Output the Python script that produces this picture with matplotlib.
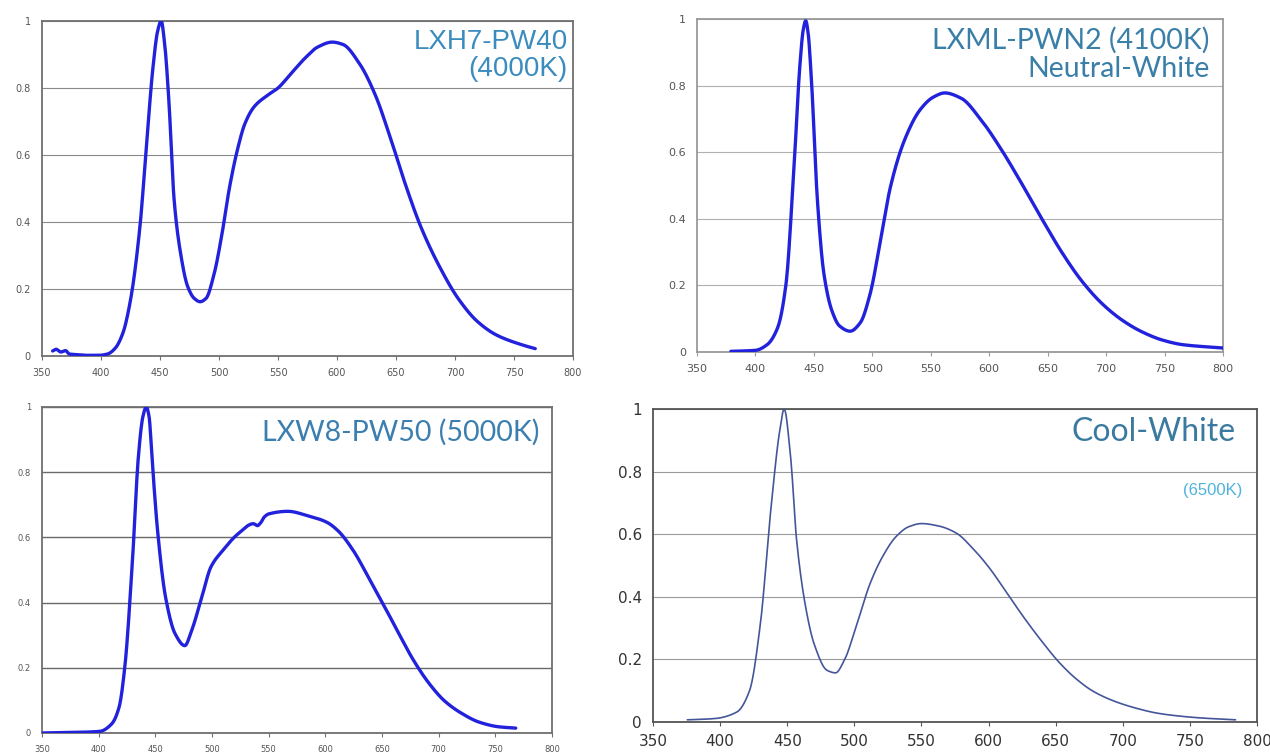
import numpy as np
import matplotlib
matplotlib.use('Agg')
import matplotlib.pyplot as plt
from matplotlib.ticker import FuncFormatter

# wavelength (nm) / relative intensity
wl_pw40 = [359, 362, 366, 370, 373, 380, 389, 398, 405.6, 412, 418.5, 425, 433, 438, 444, 448, 451,
           454, 457.5, 462, 467, 473.5, 479, 484, 489, 496, 502.6, 509, 515.5, 522, 530, 541, 550,
           561, 574, 583.5, 596, 605, 619, 632, 645, 658, 671, 687, 703, 719, 735.5, 758, 768]
sp_pw40 = [0.015, 0.02, 0.012, 0.016, 0.006, 0.004, 0.002, 0.002, 0.006, 0.023, 0.068, 0.167, 0.386,
           0.604, 0.86, 0.97, 1.0, 0.93, 0.763, 0.465, 0.316, 0.207, 0.172, 0.162, 0.172, 0.247,
           0.366, 0.505, 0.614, 0.694, 0.745, 0.778, 0.80, 0.843, 0.893, 0.922, 0.937, 0.93, 0.873,
           0.783, 0.654, 0.512, 0.386, 0.266, 0.17, 0.103, 0.062, 0.032, 0.022]

wl_pwn2 = [379, 400, 410, 419, 426, 433, 438, 441, 443, 445, 448, 453, 458.6, 465.5, 472, 481, 489.7,
           498, 507, 515.5, 527.6, 541, 552, 562, 576, 593, 610, 627.6, 645, 662, 679, 696.6, 714,
           731, 748, 765.5, 800]
sp_pwn2 = [0.002, 0.005, 0.022, 0.073, 0.2, 0.556, 0.86, 0.97, 0.995, 0.96, 0.81, 0.456, 0.234,
           0.123, 0.078, 0.0625, 0.088, 0.173, 0.335, 0.496, 0.637, 0.728, 0.765, 0.778, 0.762,
           0.697, 0.61, 0.507, 0.4, 0.3, 0.214, 0.145, 0.095, 0.06, 0.036, 0.022, 0.012]

wl_pw50 = [350, 381, 401, 411.5, 418, 423, 430, 435, 439, 442, 444.5, 447, 452, 459, 467.5, 476,
           482, 491, 499, 509.5, 523, 536.5, 540, 543, 546, 550, 567, 584, 601, 611, 624.6, 638,
           651, 665, 678, 692, 705, 719, 736, 753, 768]
sp_pw50 = [0.0, 0.002, 0.005, 0.028, 0.079, 0.2, 0.54, 0.846, 0.97, 1.0, 0.97, 0.846, 0.62, 0.417,
           0.304, 0.268, 0.314, 0.417, 0.509, 0.56, 0.611, 0.642, 0.636, 0.645, 0.662, 0.672, 0.68,
           0.667, 0.647, 0.621, 0.56, 0.478, 0.396, 0.304, 0.222, 0.15, 0.099, 0.063, 0.033,
           0.019, 0.015]

wl_cool = [375.6, 396, 412.5, 422, 430, 438, 444.5, 447.7, 452.5, 457, 463.7, 470, 479.7, 486,
           492.5, 502, 511.7, 521, 531, 540.6, 550, 563, 575.8, 588.6, 601, 614, 627, 640, 652.7,
           665.5, 678, 694, 710, 726, 742, 758, 784]
sp_cool = [0.007, 0.011, 0.032, 0.101, 0.314, 0.688, 0.933, 1.0, 0.848, 0.581, 0.368, 0.25, 0.165,
           0.157, 0.197, 0.314, 0.442, 0.528, 0.592, 0.624, 0.634, 0.626, 0.604, 0.553, 0.49, 0.41,
           0.33, 0.256, 0.19, 0.137, 0.098, 0.066, 0.044, 0.028, 0.019, 0.013, 0.007]

x_ticks = [350, 400, 450, 500, 550, 600, 650, 700, 750, 800]
y_ticks = [0, 0.2, 0.4, 0.6, 0.8, 1.0]

W, H = 1270, 755
fig = plt.figure(figsize=(W / 100, H / 100), dpi=100)


def box(x0, y0, x1, y1):
    # pixel box -> figure fraction
    return [x0 / W, 1 - y1 / H, (x1 - x0) / W, (y1 - y0) / H]


def smooth(x, y):
    # monotone cubic through the read points, just for a clean curve
    x = np.asarray(x, float)
    y = np.asarray(y, float)
    xs = np.linspace(x[0], x[-1], 800)
    h = np.diff(x)
    d = np.diff(y) / h
    m = np.zeros_like(y)
    m[0], m[-1] = d[0], d[-1]
    for i in range(1, len(x) - 1):
        if d[i - 1] * d[i] <= 0:
            m[i] = 0
        else:
            w1 = 2 * h[i] + h[i - 1]
            w2 = h[i] + 2 * h[i - 1]
            m[i] = (w1 + w2) / (w1 / d[i - 1] + w2 / d[i])
    idx = np.clip(np.searchsorted(x, xs) - 1, 0, len(x) - 2)
    t = (xs - x[idx]) / h[idx]
    h00 = 2 * t**3 - 3 * t**2 + 1
    h10 = t**3 - 2 * t**2 + t
    h01 = -2 * t**3 + 3 * t**2
    h11 = t**3 - t**2
    ys = h00 * y[idx] + h10 * h[idx] * m[idx] + h01 * y[idx + 1] + h11 * h[idx] * m[idx + 1]
    return xs, ys


def fmt(v, pos):
    if abs(v) < 1e-9:
        return '0'
    if abs(v - 1) < 1e-9:
        return '1'
    return '%.1f' % v


def panel(rect, wl, sp, frame, grid, lw, color, tsize, tcolor, gridlw=0.8):
    ax = fig.add_axes(rect)
    xs, ys = smooth(wl, sp)
    ax.plot(xs, ys, color=color, lw=lw, solid_capstyle='round', zorder=3)
    ax.set_xlim(350, 800)
    ax.set_ylim(0, 1)
    ax.set_xticks(x_ticks)
    ax.set_yticks(y_ticks)
    ax.yaxis.set_major_formatter(FuncFormatter(fmt))
    ax.grid(axis='y', color=grid, lw=gridlw)
    ax.set_axisbelow(True)
    for s in ax.spines.values():
        s.set_color(frame)
        s.set_linewidth(1.3)
    ax.tick_params(axis='x', length=3, direction='out', color=frame, labelsize=tsize,
                   labelcolor=tcolor, pad=6)
    ax.tick_params(axis='y', length=0, labelsize=tsize, labelcolor=tcolor, pad=8)
    return ax


blue = '#2222dd'

ax1 = panel(box(42, 21, 573, 356), wl_pw40, sp_pw40, '#707070', '#8a8a8a', 2.4, blue, 7, '#555555')
ax1.text(0.99, 0.975, 'LXH7-PW40\n(4000K)', transform=ax1.transAxes, ha='right', va='top',
         fontsize=20, color='#3a8cbf', family='Liberation Sans', linespacing=1.05)

ax2 = panel(box(697, 19, 1223, 352), wl_pwn2, sp_pwn2, '#9a9a9a', '#b0b0b0', 2.4, blue, 8, '#555555')
ax2.text(0.975, 0.975, 'LXML-PWN2 (4100K)\nNeutral-White', transform=ax2.transAxes, ha='right',
         va='top', fontsize=20.5, color='#3a7fa8', family='Lato', linespacing=1.1)

ax3 = panel(box(42, 407, 552, 733), wl_pw50, sp_pw50, '#707070', '#6a6a6a', 2.4, blue, 6, '#555555',
            gridlw=1.0)
ax3.text(0.975, 0.965, 'LXW8-PW50 (5000K)', transform=ax3.transAxes, ha='right', va='top',
         fontsize=20.5, color='#3a7fb0', family='Lato')

ax4 = panel(box(653, 409, 1257, 722), wl_cool, sp_cool, '#555555', '#9a9a9a', 1.2, '#44559a', 11,
            '#333333')
ax4.text(0.965, 0.975, 'Cool-White', transform=ax4.transAxes, ha='right', va='top',
         fontsize=23, color='#3a7aa0', family='Lato')
ax4.text(0.975, 0.74, '(6500K)', transform=ax4.transAxes, ha='right', va='center',
         fontsize=12, color='#4fb3de', family='Liberation Sans')

fig.savefig('out.png', dpi=100)
